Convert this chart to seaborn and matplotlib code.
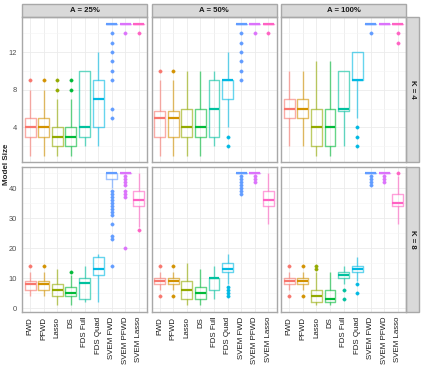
import pandas as pd
import matplotlib
matplotlib.use("Agg")
import matplotlib.pyplot as plt
from matplotlib.patches import Rectangle
from matplotlib.ticker import MultipleLocator
import seaborn as sns

methods = ["FWD", "PFWD", "Lasso", "DS", "FDS Full", "FDS Quad",
           "SVEM FWD", "SVEM PFWD", "SVEM Lasso"]
colors = ["#F8766D", "#D39200", "#93AA00", "#00BA38", "#00C19F",
          "#00B9E3", "#619CFF", "#DB72FB", "#FF61C3"]
col_labels = ["A = 25%", "A = 50%", "A = 100%"]
row_labels = ["K = 4", "K = 8"]

# box summaries: (low whisker, q1, median, q3, high whisker, outliers)
k4_a25 = [(1, 3, 4, 5, 8, [9]), (1, 3, 4, 5, 8, [9]), (1, 2, 3, 4, 7, [8, 9]),
          (1, 2, 3, 4, 7, [8, 9]), (2, 3, 4, 10, 10, []), (2, 4, 7, 9, 12, []),
          (15, 15, 15, 15, 15, [14, 13, 12, 11, 10, 9, 6, 5]),
          (15, 15, 15, 15, 15, [14]), (15, 15, 15, 15, 15, [14])]
k4_a50 = [(1, 3, 5, 5.75, 9, [10]), (1, 3, 5, 5.75, 9, [10]), (1, 3, 4, 6, 10, []),
          (1, 3, 4, 6, 10, []), (2, 3, 6, 9, 10, []), (4, 7, 9, 9, 12, [3, 2]),
          (15, 15, 15, 15, 15, [14, 13, 12, 11, 10, 9]),
          (15, 15, 15, 15, 15, [14]), (15, 15, 15, 15, 15, [14])]
k4_a100 = [(2, 5, 6, 7, 10, []), (2, 5, 6, 7, 10, []), (1, 2, 4, 6, 11, []),
           (1, 2, 4, 6, 11, []), (2, 5.75, 6, 10, 10, []), (5, 9, 9, 12, 12, [4, 3, 2]),
           (15, 15, 15, 15, 15, [14]), (15, 15, 15, 15, 15, []),
           (15, 15, 15, 15, 15, [14, 13])]
k8_a25 = [(4, 6, 8, 9, 12, [14]), (4, 6, 8, 9, 12, [14]), (1, 4, 6, 8, 13, []),
          (1, 4, 5, 7, 11, [12]), (2, 3, 8.5, 10, 14, []), (2, 11, 13, 17, 18, []),
          (40, 43, 45, 45, 45, [39, 38, 37, 36, 35, 34, 33, 32, 31, 28, 24, 23, 14]),
          (45, 45, 45, 45, 45, [44, 43, 42, 41, 39, 38, 37, 20]),
          (27, 34, 36, 39, 45, [26])]
k8_a50 = [(6, 8, 9, 10, 12, [14, 4]), (6, 8, 9, 10, 12, [14, 4]), (1, 3, 6, 9, 15, []),
          (1, 3, 5, 7, 13, []), (3, 6, 10, 10, 14, []), (8, 12, 13, 15, 18, [7, 6, 5, 4]),
          (45, 45, 45, 45, 45, [44, 43, 42, 41, 40, 39, 38]),
          (45, 45, 45, 45, 45, [44, 43, 42]), (28, 34, 36, 39, 45, [])]
k8_a100 = [(6, 8, 9, 10, 12, [14, 4]), (6, 8, 9, 10, 12, [14, 4]), (1, 2, 4, 6, 12, [13, 14]),
           (1, 2, 3, 6, 12, []), (8, 10, 11, 12, 14, [6, 3]), (9, 12, 13, 14, 17, [8, 5]),
           (45, 45, 45, 45, 45, [44, 43, 42, 41]),
           (45, 45, 45, 45, 45, [44, 43, 42]), (28, 34, 35, 38, 44, [45])]

panels = [[k4_a25, k4_a50, k4_a100], [k8_a25, k8_a50, k8_a100]]
row_ylims = [(0.3, 15.7), (-1.2, 47.2)]
row_major = [4, 10]


def to_frame(summary):
    # rebuild a sample whose quartiles / whiskers / outliers give the same boxes
    rows = []
    for name, (lo, q1, med, q3, hi, out) in zip(methods, summary):
        vals = [lo] + [q1] * 20 + [med] * 20 + [q3] * 20 + [hi] + list(out)
        rows += [(name, v) for v in vals]
    return pd.DataFrame(rows, columns=["method", "size"])


sns.set_style("white")
plt.rcParams["font.family"] = ["Liberation Sans", "DejaVu Sans"]

fig, axes = plt.subplots(2, 3, figsize=(4.23, 3.65), dpi=100, sharex=True, sharey="row")
fig.subplots_adjust(left=0.052, right=0.960, top=0.953, bottom=0.145,
                    wspace=0.036, hspace=0.031)

for r in range(2):
    for c in range(3):
        ax = axes[r, c]
        df = to_frame(panels[r][c])
        sns.boxplot(data=df, x="method", y="size", hue="method", order=methods,
                    hue_order=methods, palette=colors, fill=False, width=0.8,
                    linewidth=1.0, legend=False, showcaps=False, ax=ax,
                    boxprops=dict(alpha=0.6), whiskerprops=dict(alpha=0.6),
                    medianprops=dict(linewidth=1.6),
                    flierprops=dict(marker="o", markersize=2.4))
        # solid dots for the outliers
        for ln in ax.lines:
            if ln.get_marker() == "o":
                ln.set_markerfacecolor(ln.get_markeredgecolor())
                ln.set_markeredgewidth(0.3)
        ax.set_xlim(-0.6, 8.6)
        ax.set_ylim(*row_ylims[r])
        ax.yaxis.set_major_locator(MultipleLocator(row_major[r]))
        ax.yaxis.set_minor_locator(MultipleLocator(row_major[r] / 2))
        ax.set_axisbelow(True)
        ax.grid(which="major", color="#EBEBEB", linewidth=0.6)
        ax.grid(which="minor", axis="y", color="#F4F4F4", linewidth=0.4)
        ax.set_xlabel("")
        ax.set_ylabel("")
        for s in ax.spines.values():
            s.set_color("#A8A8A8")
            s.set_linewidth(1.0)
        ax.tick_params(axis="both", which="major", length=2.2, width=0.6,
                       color="#333333", labelsize=5.4, pad=1.2)
        ax.tick_params(axis="y", labelcolor="#4D4D4D")
        ax.tick_params(axis="x", labelrotation=90, labelcolor="#1A1A1A", labelsize=5.7)
        ax.tick_params(which="minor", length=0)
        if r == 0:
            ax.add_patch(Rectangle((0, 1.0), 1, 0.09, transform=ax.transAxes,
                                   facecolor="#D9D9D9", edgecolor="#A8A8A8",
                                   linewidth=1.0, clip_on=False))
            ax.text(0.5, 1.045, col_labels[c], transform=ax.transAxes, ha="center",
                    va="center", fontsize=5.6, fontweight="bold", color="#1A1A1A")
        if c == 2:
            ax.add_patch(Rectangle((1.0, 0), 0.105, 1, transform=ax.transAxes,
                                   facecolor="#D9D9D9", edgecolor="#A8A8A8",
                                   linewidth=1.0, clip_on=False))
            ax.text(1.0525, 0.5, row_labels[r], transform=ax.transAxes, ha="center",
                    va="center", rotation=-90, fontsize=5.6, fontweight="bold",
                    color="#1A1A1A")

fig.text(0.016, 1 - 164 / 365, "Model Size", rotation=90, ha="center", va="center",
         fontsize=5.8, fontweight="bold")

fig.savefig("out.png", dpi=100, facecolor="white")
